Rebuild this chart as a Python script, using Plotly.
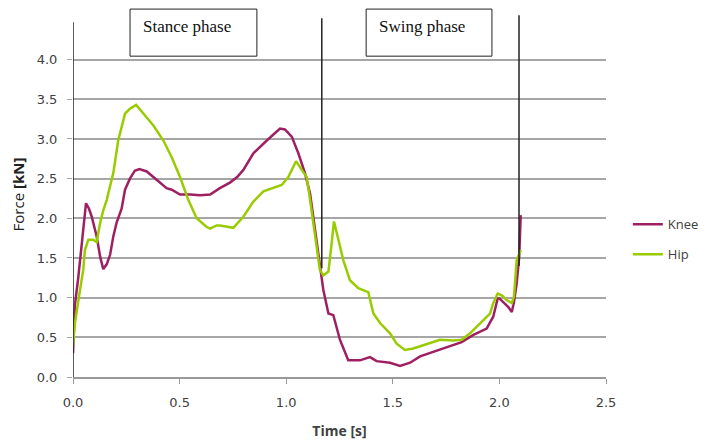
import plotly.graph_objects as go

# ---- data ----
knee_t = [0.000, 0.009, 0.025, 0.041, 0.052, 0.061, 0.075, 0.088, 0.111, 0.127, 0.142, 0.158,
          0.174, 0.189, 0.205, 0.228, 0.244, 0.267, 0.290, 0.311, 0.346, 0.392, 0.439, 0.463,
          0.502, 0.550, 0.596, 0.643, 0.689, 0.736, 0.770, 0.799, 0.846, 0.909, 0.971, 0.994,
          1.026, 1.057, 1.088, 1.112, 1.127, 1.158, 1.174, 1.198, 1.221, 1.252, 1.291, 1.346,
          1.393, 1.424, 1.487, 1.534, 1.581, 1.628, 1.690, 1.737, 1.768, 1.823, 1.878, 1.940,
          1.971, 1.992, 2.000, 2.019, 2.042, 2.058, 2.068, 2.081, 2.093, 2.100]
knee_f = [0.30, 0.91, 1.26, 1.64, 1.95, 2.19, 2.12, 2.02, 1.77, 1.52, 1.36, 1.42,
          1.54, 1.77, 1.95, 2.12, 2.36, 2.50, 2.60, 2.62, 2.59, 2.48, 2.38, 2.36,
          2.30, 2.30, 2.29, 2.30, 2.38, 2.45, 2.52, 2.61, 2.82, 2.98, 3.13, 3.12,
          3.03, 2.82, 2.57, 2.31, 2.02, 1.45, 1.10, 0.80, 0.78, 0.47, 0.21, 0.21,
          0.25, 0.20, 0.18, 0.14, 0.18, 0.26, 0.32, 0.36, 0.39, 0.44, 0.53, 0.61,
          0.76, 0.99, 0.99, 0.94, 0.88, 0.82, 0.94, 1.18, 1.52, 2.04]

hip_t = [0.000, 0.009, 0.033, 0.048, 0.056, 0.072, 0.095, 0.111, 0.127, 0.142, 0.158, 0.189,
         0.212, 0.244, 0.267, 0.296, 0.330, 0.377, 0.424, 0.463, 0.502, 0.541, 0.580, 0.627,
         0.643, 0.674, 0.689, 0.752, 0.799, 0.846, 0.893, 0.940, 0.979, 1.010, 1.046, 1.073,
         1.096, 1.112, 1.135, 1.158, 1.174, 1.198, 1.213, 1.224, 1.245, 1.268, 1.299, 1.338,
         1.385, 1.409, 1.440, 1.487, 1.518, 1.557, 1.596, 1.643, 1.721, 1.784, 1.823, 1.862,
         1.909, 1.956, 1.971, 1.992, 2.011, 2.034, 2.058, 2.068, 2.073, 2.081, 2.100]
hip_f = [0.40, 0.68, 1.10, 1.35, 1.60, 1.73, 1.73, 1.70, 1.94, 2.10, 2.23, 2.57,
         2.98, 3.32, 3.38, 3.43, 3.32, 3.17, 2.98, 2.77, 2.52, 2.23, 2.00, 1.89,
         1.87, 1.91, 1.91, 1.88, 2.02, 2.21, 2.34, 2.38, 2.42, 2.52, 2.72, 2.61,
         2.52, 2.23, 1.81, 1.35, 1.28, 1.33, 1.68, 1.96, 1.73, 1.47, 1.22, 1.12,
         1.07, 0.80, 0.68, 0.55, 0.42, 0.34, 0.36, 0.40, 0.47, 0.46, 0.47, 0.55,
         0.68, 0.80, 0.93, 1.05, 1.03, 0.97, 0.93, 1.01, 1.18, 1.47, 1.60]

# phase boundary markers (time, bottom force, top force)
phase_t = [0.0, 1.167, 2.092]
phase_bottom = [0.0, 1.37, 1.40]
phase_top = [4.47, 4.52, 4.56]

phase_labels = ["Stance phase", "Swing phase"]
y_ticks = [0.0, 0.5, 1.0, 1.5, 2.0, 2.5, 3.0, 3.5, 4.0]
x_ticks = [0.0, 0.5, 1.0, 1.5, 2.0, 2.5]

KNEE_COLOR = "#9E2062"
HIP_COLOR = "#99CC00"

fig = go.Figure()
fig.add_trace(go.Scatter(x=knee_t, y=knee_f, mode="lines", name="Knee",
                         line=dict(color=KNEE_COLOR, width=2.5), legendgroup="k"))
fig.add_trace(go.Scatter(x=hip_t, y=hip_f, mode="lines", name="Hip",
                         line=dict(color=HIP_COLOR, width=2.5), legendgroup="h"))

for t, b, tp in zip(phase_t, phase_bottom, phase_top):
    fig.add_shape(type="line", xref="x", yref="y", x0=t, x1=t, y0=b, y1=tp,
                  line=dict(color="#222222", width=1.5), layer="above")

# label boxes
boxes = [(0.107, 0.345), (0.550, 0.786)]
for (bx0, bx1), lab in zip(boxes, phase_labels):
    fig.add_shape(type="rect", xref="paper", yref="paper", x0=bx0, x1=bx1,
                  y0=0.879, y1=1.008, line=dict(color="#222222", width=1),
                  fillcolor="white", layer="above")
    fig.add_annotation(xref="paper", yref="paper", x=bx0 + 0.021, y=0.961,
                       xanchor="left", yanchor="middle", showarrow=False, text=lab,
                       font=dict(family="Liberation Serif", size=17, color="#111111"))

fig.update_layout(
    width=700, height=432,
    margin=dict(l=65, r=102, t=4, b=63, autoexpand=False),
    paper_bgcolor="white", plot_bgcolor="white",
    font=dict(family="DejaVu Sans", size=13, color="#404040"),
    showlegend=True,
    legend=dict(x=1.041, y=0.377, xanchor="left", yanchor="middle",
                font=dict(family="Open Sans", size=13, color="#404040"),
                tracegroupgap=10, bgcolor="rgba(0,0,0,0)"),
    xaxis=dict(range=[0, 2.5], tickvals=x_ticks, ticktext=[f"{v:.1f}" for v in x_ticks],
               showgrid=False, zeroline=False, showline=True, linecolor="#999999",
               linewidth=1.5, ticks="outside", ticklen=5, tickcolor="#999999",
               ticklabelstandoff=8, automargin=False,
               title=dict(text="<b>Time [s]</b>", standoff=18,
                          font=dict(family="Open Sans", size=14, color="#404040"))),
    yaxis=dict(range=[0, 4.6], tickvals=y_ticks, ticktext=[f"{v:.1f}" for v in y_ticks],
               showgrid=True, gridcolor="#A6A6A6", gridwidth=1.5, zeroline=False,
               showline=False, ticks="outside", ticklen=5, tickcolor="#A6A6A6",
               ticklabelstandoff=7, automargin=False,
               title=dict(text="Force <b>[kN]</b>", standoff=16,
                          font=dict(family="Open Sans", size=15, color="#222222"))),
)

fig.write_html("out.html")
